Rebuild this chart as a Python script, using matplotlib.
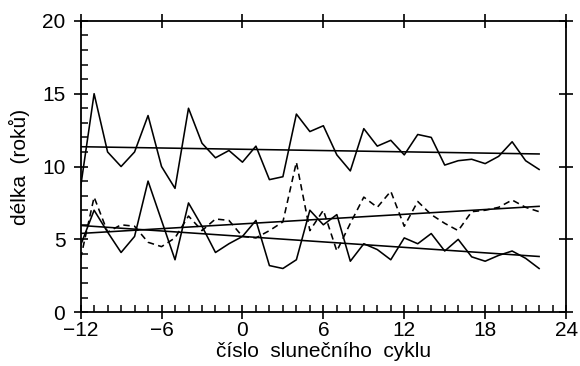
import numpy as np
import matplotlib
matplotlib.use("Agg")
import matplotlib.pyplot as plt
from matplotlib.ticker import MultipleLocator

plt.rcParams["font.family"] = ["Liberation Sans", "DejaVu Sans"]

# cycle numbers and lengths (years)
cycles = list(range(-12, 23))
cycle_len = [8.6, 15.0, 11.0, 10.0, 11.0, 13.5, 10.0, 8.5, 14.0, 11.6, 10.6, 11.1,
             10.3, 11.4, 9.1, 9.3, 13.6, 12.4, 12.8, 10.8, 9.7, 12.6, 11.4, 11.8,
             10.8, 12.2, 12.0, 10.1, 10.4, 10.5, 10.2, 10.7, 11.7, 10.4, 9.8]
rise_len = [4.6, 7.0, 5.5, 4.1, 5.2, 9.0, 6.3, 3.6, 7.5, 5.9, 4.1, 4.7,
            5.2, 6.3, 3.2, 3.0, 3.6, 7.0, 6.0, 6.7, 3.5, 4.7, 4.3, 3.6,
            5.1, 4.7, 5.4, 4.2, 5.0, 3.8, 3.5, 3.9, 4.2, 3.7, 3.0]
fall_len = [3.7, 7.9, 5.5, 6.0, 5.9, 4.8, 4.5, 5.1, 6.6, 5.6, 6.4, 6.3,
            5.2, 5.1, 5.6, 6.2, 10.3, 5.6, 7.0, 4.2, 6.1, 7.9, 7.2, 8.3,
            5.9, 7.6, 6.7, 6.1, 5.6, 6.9, 7.0, 7.2, 7.7, 7.2, 6.9]

fig = plt.figure(figsize=(5.8, 3.66), dpi=100)
ax = fig.add_axes([0.139, 0.147, 0.837, 0.796])

x = np.array(cycles)
lw = 1.15
ax.plot(x, cycle_len, color="black", lw=lw)
ax.plot(x, rise_len, color="black", lw=lw)
ax.plot(x, fall_len, color="black", lw=lw, linestyle=(0, (4, 2.7)))

# linear trends
for series in (cycle_len, rise_len, fall_len):
    k, q = np.polyfit(x, series, 1)
    ends = x[[0, -1]]
    ax.plot(ends, k * ends + q, color="black", lw=lw)

ax.set_xlim(-12, 24)
ax.set_ylim(0, 20)

ax.xaxis.set_major_locator(MultipleLocator(6))
ax.xaxis.set_minor_locator(MultipleLocator(1))
ax.yaxis.set_major_locator(MultipleLocator(5))
ax.yaxis.set_minor_locator(MultipleLocator(1))

ax.tick_params(which="major", direction="inout", length=10, width=1.2,
               top=True, right=True, labelsize=15, colors="black")
ax.tick_params(which="minor", direction="in", length=5, width=1.1,
               top=False, right=False)
ax.tick_params(axis="x", which="major", pad=1)
ax.tick_params(axis="y", which="major", pad=6)

ax.xaxis.set_major_formatter(plt.FuncFormatter(lambda v, p: f"{int(v)}".replace("-", "\u2212")))

for s in ax.spines.values():
    s.set_linewidth(1.3)

ax.set_xlabel("číslo  slunečního  cyklu", fontsize=15, labelpad=2)
ax.set_ylabel("délka  (roků)", fontsize=15)
ax.yaxis.set_label_coords(-0.105, 0.5)

fig.savefig("out.png", dpi=100)
